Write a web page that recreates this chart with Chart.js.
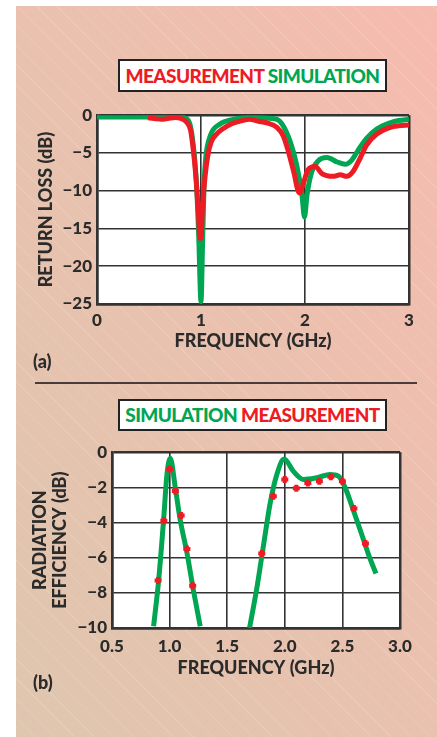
<!DOCTYPE html>
<html>
<head>
<meta charset="utf-8">
<script src="https://cdn.jsdelivr.net/npm/chart.js@4.4.1/dist/chart.umd.min.js"></script>
<style>
    html, body { margin: 0; padding: 0; background: #fff; }
    body { width: 437px; height: 737px; position: relative; overflow: hidden; font-family: Lato, sans-serif; }
    .panel {
        position: absolute; left: 16px; top: 6px; right: 0; bottom: 0;
        background:
            repeating-linear-gradient(45deg, rgba(255,255,255,0) 0 13px, rgba(255,255,255,0.12) 13px 14px),
            linear-gradient(to bottom left, #f6bbae 0%, #eac1ae 45%, #dfc6af 100%);
    }
    .legend {
        position: absolute; left: 118px; width: 265px; background: #fff;
        border: 2px solid #222; font-weight: 900; font-size: 19px;
        text-align: center; letter-spacing: -0.6px;
    }
    .red { color: #ed1c24; }
    .green { color: #00a651; }
    .tag { position: absolute; left: 33px; font-weight: 900; font-size: 18px; color: #2b2b2b; }
    .rule { position: absolute; left: 35px; width: 382px; top: 382px; height: 1.5px; background: #4a3c38; }
    canvas { position: absolute; left: 0; }
</style>
</head>
<body>
<div class="panel"></div>

<div class="legend" style="top:59px;height:29px;line-height:29px;">
    <span class="red">MEASUREMENT</span> <span class="green">SIMULATION</span>
</div>
<canvas id="chartA" width="437" height="260" style="top:100px"></canvas>
<div class="tag" style="top:350px">(a)</div>

<div class="rule"></div>

<div class="legend" style="top:399px;height:28px;line-height:28px;">
    <span class="green">SIMULATION</span> <span class="red">MEASUREMENT</span>
</div>
<canvas id="chartB" width="437" height="250" style="top:437px"></canvas>
<div class="tag" style="top:671px">(b)</div>

<script>
// (a) return loss, GHz / dB
const simFreqA = [0, 0.4, 0.8, 0.86, 0.91, 0.955, 0.978, 1.0, 1.015, 1.03, 1.045, 1.09, 1.18, 1.31, 1.47, 1.6, 1.73, 1.79, 1.86, 1.92, 1.97, 1.995, 2.02, 2.065, 2.13, 2.21, 2.31, 2.385, 2.45, 2.51, 2.59, 2.69, 2.82, 2.9, 3.0];
const simLossA = [-0.25, -0.25, -0.25, -0.45, -2.3, -8.7, -16, -24.7, -17, -9, -5.7, -2.7, -1.2, -0.55, -0.3, -0.35, -0.55, -1.4, -3.6, -6.6, -10.5, -13.5, -10.5, -7.5, -6.0, -5.6, -6.2, -6.5, -5.95, -4.65, -3.1, -1.85, -1.0, -0.7, -0.55];

const measFreqA = [0.49, 0.55, 0.62, 0.68, 0.75, 0.8, 0.86, 0.9, 0.925, 0.95, 0.975, 0.99, 1.0, 1.015, 1.04, 1.07, 1.1, 1.15, 1.2, 1.3, 1.4, 1.47, 1.55, 1.63, 1.73, 1.79, 1.84, 1.89, 1.946, 1.985, 2.03, 2.1, 2.16, 2.27, 2.34, 2.4, 2.46, 2.53, 2.59, 2.69, 2.82, 2.9, 3.0];
const measLossA = [-0.35, -0.45, -0.55, -0.45, -0.3, -0.4, -0.9, -2.0, -4.5, -8, -13, -16.3, -16.3, -12, -8.0, -5, -3.5, -2.5, -1.9, -1.1, -0.7, -0.55, -0.8, -1.0, -1.6, -2.7, -4.8, -7.4, -10.3, -9, -7.2, -6.8, -7.7, -8.1, -7.9, -8.1, -7.5, -5.7, -4.0, -2.5, -1.6, -1.4, -1.3];

const xTicksA = [0, 1, 2, 3];
const yTicksA = [0, -5, -10, -15, -20, -25];

// (b) radiation efficiency, GHz / dB (null = gap between the two bands)
const simFreqB = [0.861, 0.904, 0.948, 0.977, 1.006, 1.049, 1.092, 1.15, 1.208, 1.266, 1.5, 1.694, 1.758, 1.815, 1.873, 1.931, 1.994, 2.075, 2.162, 2.278, 2.393, 2.465, 2.523, 2.595, 2.682, 2.74, 2.792];
const simEffB = [-9.9, -7.35, -3.85, -1.27, -0.35, -2.0, -3.85, -5.7, -7.9, -9.9, null, -10, -7.7, -5.3, -2.9, -1.27, -0.39, -1.09, -1.55, -1.45, -1.27, -1.36, -2.0, -3.3, -4.95, -6.06, -6.9];

const measFreqB = [0.9, 0.95, 1.0, 1.05, 1.1, 1.15, 1.2, 1.8, 1.9, 2.0, 2.1, 2.2, 2.3, 2.4, 2.5, 2.6, 2.7];
const measEffB = [-7.3, -3.9, -0.95, -2.2, -3.6, -5.5, -7.6, -5.76, -2.5, -1.55, -2.05, -1.75, -1.65, -1.4, -1.65, -3.2, -5.2];

const xTicksB = [0.5, 1.0, 1.5, 2.0, 2.5, 3.0];
const yTicksB = [0, -2, -4, -6, -8, -10];

const RED = '#ed1c24';
const GREEN = '#00a651';
const INK = '#2b2b2b';
const FONT = 'Lato, sans-serif';

const toPoints = (xs, ys) => xs.map((x, i) => ({ x: x, y: ys[i] }));
const minus = v => String(v).replace('-', '\u2212');

// white plot area
const plotBg = {
    id: 'plotBg',
    beforeDraw(chart) {
        const a = chart.chartArea;
        chart.ctx.save();
        chart.ctx.fillStyle = '#fff';
        chart.ctx.fillRect(a.left, a.top, a.right - a.left, a.bottom - a.top);
        chart.ctx.restore();
    }
};

function gridWidth(ctx) {
    const n = ctx.scale.ticks.length;
    return (ctx.index === 0 || ctx.index === n - 1) ? 2.5 : 1.6;
}

function makeScales(o) {
    return {
        x: {
            type: 'linear', min: o.xMin, max: o.xMax,
            afterBuildTicks: s => { s.ticks = o.xTicks.map(v => ({ value: v })); },
            afterFit: s => { s.height = o.xHeight; },
            ticks: {
                color: INK, padding: o.xPad,
                font: { family: FONT, size: 17, weight: 900 },
                callback: v => o.xFmt(v)
            },
            grid: { color: '#333', lineWidth: gridWidth, drawTicks: false },
            border: { color: '#333', width: 2.5 },
            title: {
                display: true, text: 'FREQUENCY (GHz)', color: INK,
                font: { family: FONT, size: 18, weight: 900 },
                padding: { top: 0, bottom: o.xTitlePad }
            }
        },
        y: {
            min: o.yMin, max: 0,
            afterBuildTicks: s => { s.ticks = o.yTicks.map(v => ({ value: v })); },
            afterFit: s => { s.width = o.yWidth; },
            ticks: {
                color: INK, padding: 5,
                font: { family: FONT, size: 17, weight: 900 },
                callback: v => minus(v)
            },
            grid: { color: '#333', lineWidth: gridWidth, drawTicks: false },
            border: { color: '#333', width: 2.5 },
            title: {
                display: true, text: o.yTitle, color: INK,
                font: { family: FONT, size: 18, weight: 900, lineHeight: 1.1 },
                padding: { top: o.yTitlePad, bottom: 0 }
            }
        }
    };
}

new Chart(document.getElementById('chartA'), {
    type: 'line',
    data: {
        datasets: [{
            label: 'Measurement',
            data: toPoints(measFreqA, measLossA),
            borderColor: RED, borderWidth: 5,
            pointRadius: 0, cubicInterpolationMode: 'monotone'
        }, {
            label: 'Simulation',
            data: toPoints(simFreqA, simLossA),
            borderColor: GREEN, borderWidth: 5,
            pointRadius: 0, cubicInterpolationMode: 'monotone'
        }]
    },
    options: {
        responsive: false,
        animation: false,
        layout: { padding: { left: 0, right: 28, top: 11, bottom: 0 } },
        plugins: { legend: { display: false }, tooltip: { enabled: false } },
        scales: makeScales({
            xMin: 0, xMax: 3, xTicks: xTicksA, xHeight: 56, xPad: 6, xTitlePad: 8,
            xFmt: v => String(v),
            yMin: -25, yTicks: yTicksA, yWidth: 97,
            yTitle: 'RETURN LOSS (dB)', yTitlePad: 36
        })
    },
    plugins: [plotBg]
});

new Chart(document.getElementById('chartB'), {
    type: 'line',
    data: {
        datasets: [{
            label: 'Measurement',
            data: toPoints(measFreqB, measEffB),
            showLine: false,
            pointStyle: 'cross', pointRadius: 3.5,
            pointBorderColor: RED, pointBorderWidth: 4
        }, {
            label: 'Simulation',
            data: toPoints(simFreqB, simEffB),
            borderColor: GREEN, borderWidth: 5,
            pointRadius: 0, cubicInterpolationMode: 'monotone', spanGaps: false
        }]
    },
    options: {
        responsive: false,
        animation: false,
        layout: { padding: { left: 0, right: 37, top: 10, bottom: 0 } },
        plugins: { legend: { display: false }, tooltip: { enabled: false } },
        scales: makeScales({
            xMin: 0.5, xMax: 3.0, xTicks: xTicksB, xHeight: 59, xPad: 8, xTitlePad: 8,
            xFmt: v => v.toFixed(1),
            yMin: -10, yTicks: yTicksB, yWidth: 112,
            yTitle: ['RADIATION', 'EFFICIENCY (dB)'], yTitlePad: 30
        })
    },
    plugins: [plotBg]
});
</script>
</body>
</html>
